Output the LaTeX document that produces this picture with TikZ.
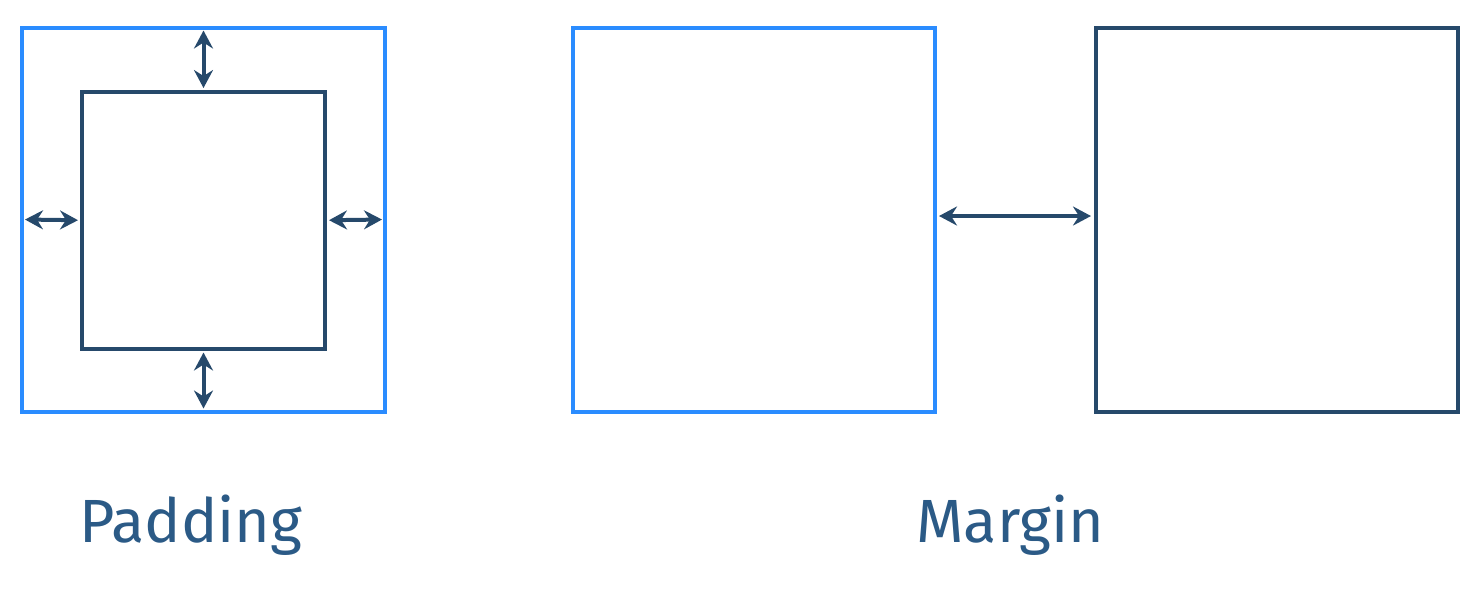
\documentclass[tikz,border=0pt]{standalone}
\usepackage{fontspec}
\setmainfont{Fira Sans}
\usetikzlibrary{arrows.meta}
\definecolor{bblue}{HTML}{2A8CFF}
\definecolor{ddark}{HTML}{26496B}
\definecolor{ttext}{HTML}{2B5A86}
\begin{document}
\begin{tikzpicture}[x=0.5pt,y=-0.5pt,
  bluebox/.style={draw=bblue, line width=2pt, rectangle, inner sep=0pt, outer sep=0pt},
  darkbox/.style={draw=ddark, line width=2pt, rectangle, inner sep=0pt, outer sep=0pt},
  dblarrow/.style={draw=ddark, line width=2pt, {Stealth[length=9pt,width=9.5pt,inset=3pt]}-{Stealth[length=9pt,width=9.5pt,inset=3pt]}},
  label/.style={text=ttext, font=\fontsize{30.5}{36}\selectfont, inner sep=0pt, anchor=base west}]
\useasboundingbox (0,0) rectangle (1474,602);
\node[bluebox, minimum width=181.5pt, minimum height=192pt] (outer) at (203.5,219.5) {};
\node[darkbox, minimum width=121.5pt, minimum height=128.75pt] (inner) at (203.5,220.25) {};
\node[bluebox, minimum width=181pt, minimum height=192pt] (mid) at (753.5,219.5) {};
\node[darkbox, minimum width=181pt, minimum height=192pt] (right) at (1277,219.5) {};
\draw[dblarrow, shorten <=1.5pt, shorten >=1.75pt] (outer.north) -- (inner.north);
\draw[dblarrow, shorten <=1.5pt, shorten >=1.75pt] (outer.south) -- (inner.south);
\draw[dblarrow, shorten <=1.5pt, shorten >=2pt] (outer.west) -- (inner.west);
\draw[dblarrow, shorten <=1.5pt, shorten >=2pt] (outer.east) -- (inner.east);
\draw[dblarrow, shorten <=2.25pt, shorten >=2.5pt] ([yshift=1.75pt]mid.east) -- ([yshift=1.75pt]right.west);
\node[label] (padding) at (79,542) {Padding};
\node[label] (margin) at (916,542) {Margin};
\end{tikzpicture}
\end{document}
